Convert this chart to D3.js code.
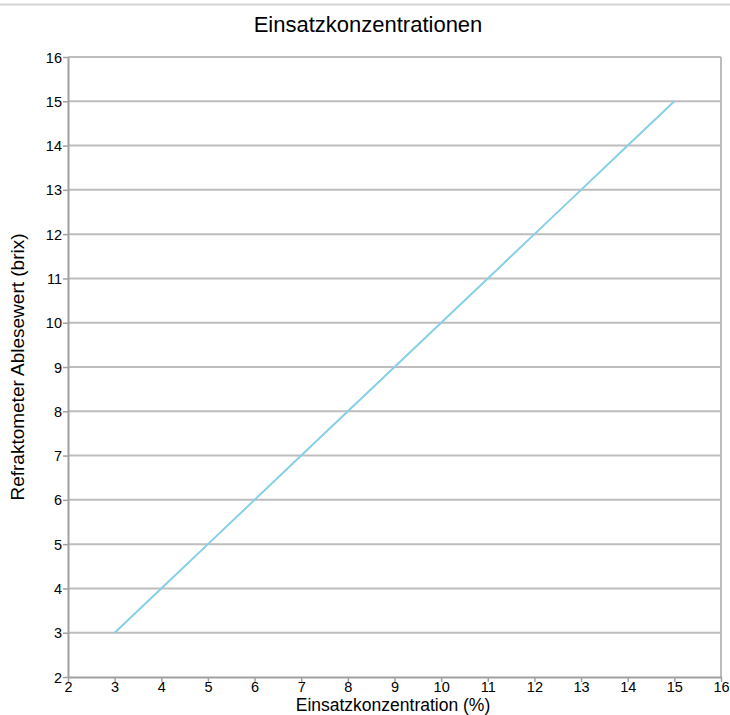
<!DOCTYPE html>
<html>
<head>
<meta charset="utf-8">
<script src="https://cdn.jsdelivr.net/npm/d3@7"></script>
<style>
body { margin: 0; background: #fff; font-family: "Liberation Sans", Arial, sans-serif; }
.axis text { font-size: 14.5px; fill: #000; font-family: "Liberation Sans", Arial, sans-serif; }
</style>
</head>
<body>
<div id="chart"></div>
<script>
// values
var concentration = [3, 4, 5, 6, 7, 8, 9, 10, 11, 12, 13, 14, 15];
var brix = [3, 4, 5, 6, 7, 8, 9, 10, 11, 12, 13, 14, 15];
var xTicks = [2, 3, 4, 5, 6, 7, 8, 9, 10, 11, 12, 13, 14, 15, 16];
var yTicks = [2, 3, 4, 5, 6, 7, 8, 9, 10, 11, 12, 13, 14, 15, 16];

var W = 730, H = 715;
var margin = {top: 57, right: 9, bottom: 38, left: 68},
  width = W - margin.left - margin.right,
  height = H - margin.top - margin.bottom;

var root = d3.select("#chart").append("svg")
  .attr("width", W)
  .attr("height", H);

// thin rule at the top of the page
root.append("line")
  .attr("x1", 0).attr("x2", W)
  .attr("y1", 4.5).attr("y2", 4.5)
  .attr("stroke", "#d4d4d4").attr("stroke-width", 2);

root.append("text")
  .attr("x", 368).attr("y", 32)
  .attr("text-anchor", "middle")
  .style("font-size", "22px")
  .text("Einsatzkonzentrationen");

var svg = root.append("g")
  .attr("transform", "translate(" + margin.left + "," + margin.top + ")");

var x = d3.scaleLinear().domain([2, 16]).range([0, width]);
var y = d3.scaleLinear().domain([2, 16]).range([height, 0]);

// horizontal grid
svg.selectAll(".grid")
  .data(yTicks.slice(1))
  .enter()
  .append("line")
  .attr("x1", 0).attr("x2", width)
  .attr("y1", function(d) { return y(d); })
  .attr("y2", function(d) { return y(d); })
  .attr("stroke", "#bdbdbd")
  .attr("stroke-width", 2);

// right border
svg.append("line")
  .attr("x1", width).attr("x2", width)
  .attr("y1", 0).attr("y2", height)
  .attr("stroke", "#bdbdbd").attr("stroke-width", 2);

var xAxis = d3.axisBottom(x).tickValues(xTicks).tickSize(5).tickSizeOuter(0).tickPadding(0);
var yAxis = d3.axisLeft(y).tickValues(yTicks).tickSize(5).tickSizeOuter(0).tickPadding(1);

var gx = svg.append("g").attr("class", "x axis")
  .attr("transform", "translate(0," + height + ")")
  .call(xAxis);
gx.select(".domain").attr("stroke", "#a0a0a0").attr("stroke-width", 2);
gx.selectAll(".tick line").attr("stroke", "#a0a0a0").attr("stroke-width", 1.5);

var gy = svg.append("g").attr("class", "y axis")
  .call(yAxis);
gy.select(".domain").attr("stroke", "#a0a0a0").attr("stroke-width", 2);
gy.selectAll(".tick line").attr("stroke", "#a0a0a0").attr("stroke-width", 1.5);
gy.selectAll("text").attr("dy", "0.35em");

var line = d3.line()
  .x(function(d, i) { return x(concentration[i]); })
  .y(function(d) { return y(d); });

svg.append("path")
  .datum(brix)
  .attr("fill", "none")
  .attr("stroke", "#87cfe8")
  .attr("stroke-width", 2)
  .attr("d", line);

root.append("text")
  .attr("x", 393).attr("y", 711)
  .attr("text-anchor", "middle")
  .style("font-size", "17.5px")
  .text("Einsatzkonzentration (%)");

root.append("text")
  .attr("transform", "translate(24," + 367 + ") rotate(-90)")
  .attr("text-anchor", "middle")
  .style("font-size", "19px")
  .text("Refraktometer Ablesewert (brix)");
</script>
</body>
</html>
